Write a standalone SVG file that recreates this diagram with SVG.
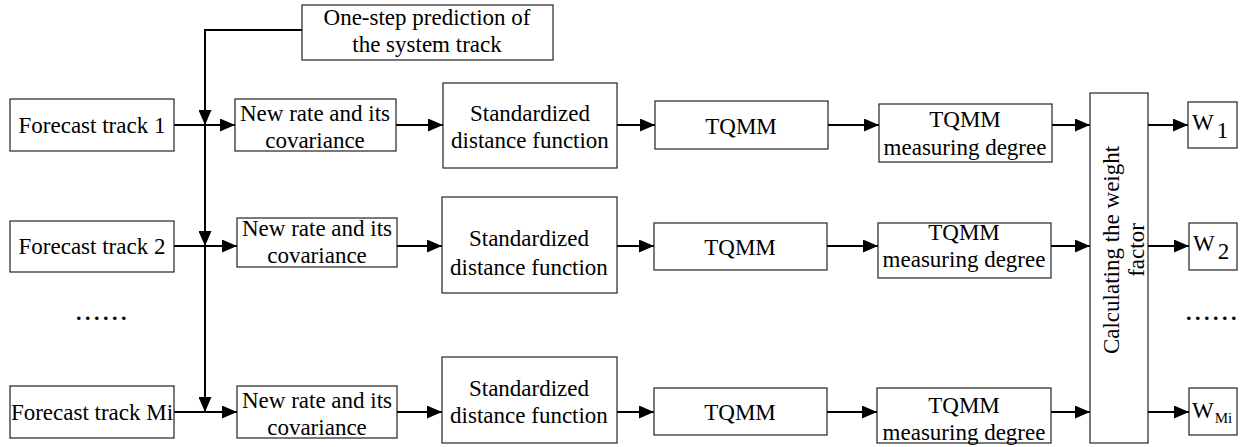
<svg xmlns="http://www.w3.org/2000/svg" width="1241" height="447" viewBox="0 0 1241 447">
<style>
.box{fill:#fff;stroke:#222;stroke-width:1.2}
.t{font-family:'Liberation Serif','DejaVu Serif',serif;font-size:23px;fill:#000;text-anchor:middle}
.dots{font-family:'Liberation Serif','DejaVu Serif',serif;font-size:22px;font-weight:bold;letter-spacing:3.5px;fill:#000}
.c{fill:none;stroke:#000;stroke-width:2}
</style>
<defs>
<marker id="ah" markerUnits="userSpaceOnUse" markerWidth="15" markerHeight="13" refX="15" refY="6.5" orient="auto">
<path d="M0,0 L15,6.5 L0,13 z" fill="#000"/>
</marker>
</defs>
<rect width="1241" height="447" fill="#fff"/>

<g id="connectors">
<path class="c" d="M302,30 H205 V125" marker-end="url(#ah)"/>
<path class="c" d="M205,125 V246" marker-end="url(#ah)"/>
<path class="c" d="M205,246 V412" marker-end="url(#ah)"/>
<path class="c" d="M174,125 H235" marker-end="url(#ah)"/>
<path class="c" d="M396,125 H443" marker-end="url(#ah)"/>
<path class="c" d="M617,125 H655" marker-end="url(#ah)"/>
<path class="c" d="M828,125 H879" marker-end="url(#ah)"/>
<path class="c" d="M1052,125 H1090" marker-end="url(#ah)"/>
<path class="c" d="M1148,125 H1188" marker-end="url(#ah)"/>
<path class="c" d="M174,246 H237" marker-end="url(#ah)"/>
<path class="c" d="M397,246 H442" marker-end="url(#ah)"/>
<path class="c" d="M617,246 H654" marker-end="url(#ah)"/>
<path class="c" d="M827,246 H878" marker-end="url(#ah)"/>
<path class="c" d="M1051,246 H1090" marker-end="url(#ah)"/>
<path class="c" d="M1148,246 H1189" marker-end="url(#ah)"/>
<path class="c" d="M174,412 H237" marker-end="url(#ah)"/>
<path class="c" d="M397,412 H442" marker-end="url(#ah)"/>
<path class="c" d="M617,412 H654" marker-end="url(#ah)"/>
<path class="c" d="M827,412 H877" marker-end="url(#ah)"/>
<path class="c" d="M1051,412 H1090" marker-end="url(#ah)"/>
<path class="c" d="M1148,412 H1189" marker-end="url(#ah)"/>
</g>

<g id="onestep"><rect class="box" x="302" y="5" width="251" height="55"/>
<text class="t" x="427" y="25">One-step prediction of</text><text class="t" x="427" y="52">the system track</text></g>

<g id="forecast1"><rect class="box" x="10" y="99" width="164" height="52"/><text class="t" x="92" y="133">Forecast track 1</text></g>
<g id="forecast2"><rect class="box" x="10" y="221" width="164" height="51"/><text class="t" x="92" y="254">Forecast track 2</text></g>
<g id="forecastMi"><rect class="box" x="10" y="386" width="164" height="52"/><text class="t" x="92" y="420">Forecast track Mi</text></g>

<g id="newrate1"><rect class="box" x="235" y="99" width="161" height="52"/><text class="t" x="315" y="121">New rate and its</text><text class="t" x="315" y="148">covariance</text></g>
<g id="newrate2"><rect class="box" x="237" y="218" width="160" height="49"/><text class="t" x="317" y="236">New rate and its</text><text class="t" x="317" y="263">covariance</text></g>
<g id="newrate3"><rect class="box" x="237" y="386" width="160" height="52"/><text class="t" x="317" y="408">New rate and its</text><text class="t" x="317" y="435">covariance</text></g>

<g id="std1"><rect class="box" x="443" y="83" width="174" height="85"/><text class="t" x="530" y="121">Standardized</text><text class="t" x="530" y="148">distance function</text></g>
<g id="std2"><rect class="box" x="442" y="197" width="175" height="96"/><text class="t" x="529" y="246">Standardized</text><text class="t" x="529" y="275">distance function</text></g>
<g id="std3"><rect class="box" x="442" y="357" width="175" height="86"/><text class="t" x="529" y="396">Standardized</text><text class="t" x="529" y="423">distance function</text></g>

<g id="tqmm1"><rect class="box" x="655" y="101" width="173" height="48"/><text class="t" x="741" y="134">TQMM</text></g>
<g id="tqmm2"><rect class="box" x="654" y="223" width="173" height="47"/><text class="t" x="740" y="255">TQMM</text></g>
<g id="tqmm3"><rect class="box" x="654" y="388" width="173" height="47"/><text class="t" x="740" y="420">TQMM</text></g>

<g id="meas1"><rect class="box" x="879" y="104" width="173" height="58"/><text class="t" x="965" y="127">TQMM</text><text class="t" x="965" y="155">measuring degree</text></g>
<g id="meas2"><rect class="box" x="878" y="223" width="173" height="55"/><text class="t" x="964" y="240">TQMM</text><text class="t" x="964" y="267">measuring degree</text></g>
<g id="meas3"><rect class="box" x="877" y="388" width="174" height="55"/><text class="t" x="964" y="413">TQMM</text><text class="t" x="964" y="440">measuring degree</text></g>

<g id="calc"><rect class="box" x="1090" y="93" width="58" height="350"/>
<text class="t" transform="translate(1119,250) rotate(-90)" x="0" y="0">Calculating the weight</text>
<text class="t" transform="translate(1144,250) rotate(-90)" x="0" y="0">factor</text></g>

<g id="w1"><rect class="box" x="1188" y="102" width="49" height="46"/><text class="t" x="1192" y="130" style="text-anchor:start">W<tspan dx="3" dy="8">1</tspan></text></g>
<g id="w2"><rect class="box" x="1189" y="223" width="48" height="47"/><text class="t" x="1193" y="251" style="text-anchor:start">W<tspan dx="3" dy="8">2</tspan></text></g>
<g id="wMi"><rect class="box" x="1189" y="388" width="48" height="47"/><text class="t" x="1192" y="418" style="text-anchor:start">W<tspan dx="1" dy="5" style="font-size:15px">Mi</tspan></text></g>

<text class="dots" x="76" y="320">......</text>
<text class="dots" x="1186" y="320">......</text>
</svg>
